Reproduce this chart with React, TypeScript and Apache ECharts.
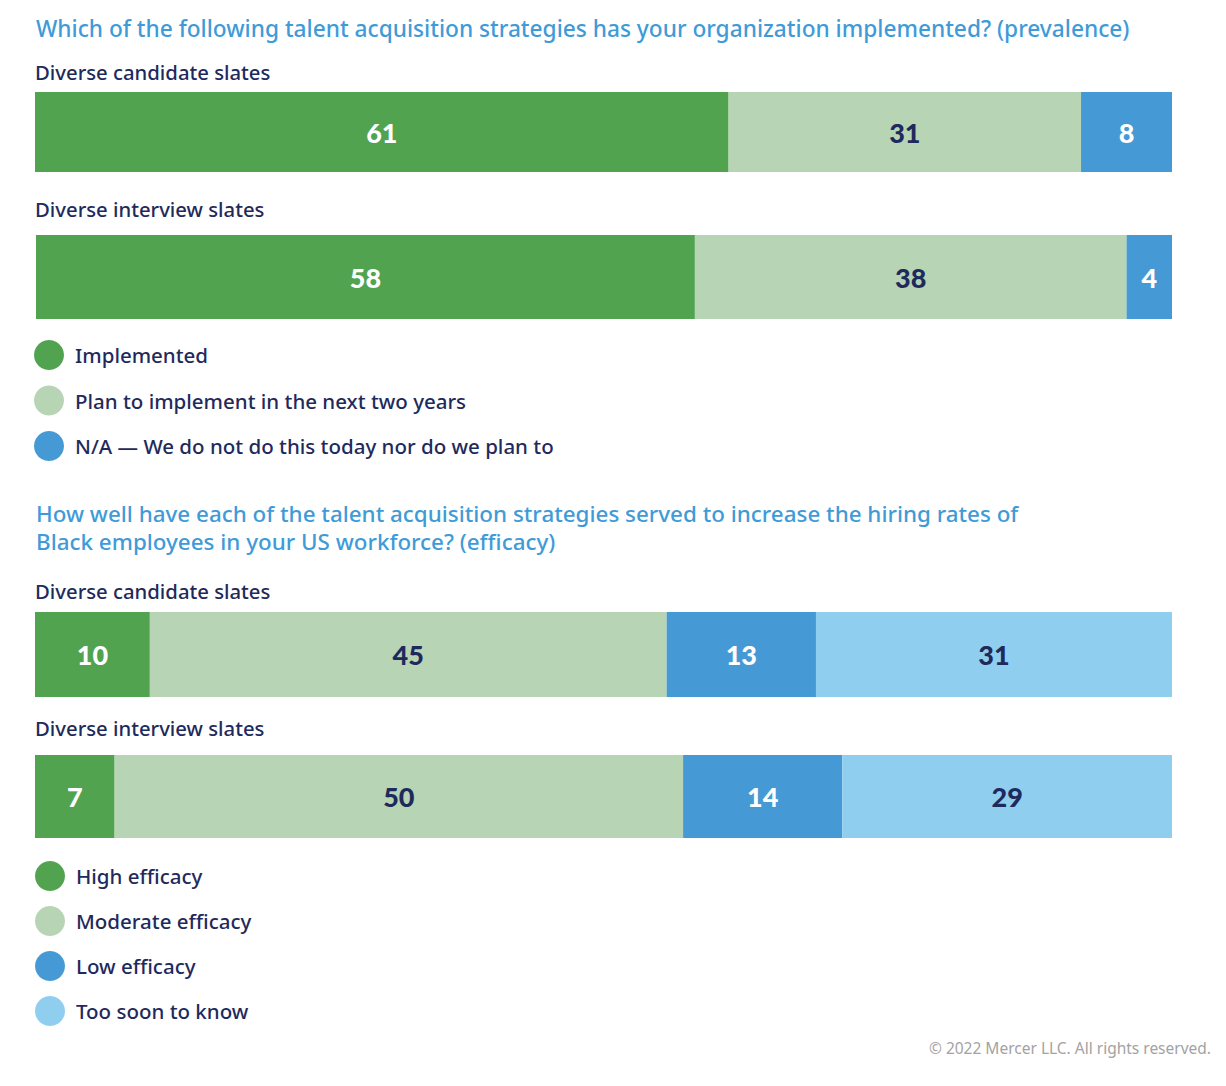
import React, { useEffect, useRef } from "react";
import * as echarts from "echarts";

const prevalenceCategories = [
  "Implemented",
  "Plan to implement in the next two years",
  "N/A — We do not do this today nor do we plan to",
];
const prevalenceCandidate = [61, 31, 8];
const prevalenceInterview = [58, 38, 4];

const efficacyCategories = [
  "High efficacy",
  "Moderate efficacy",
  "Low efficacy",
  "Too soon to know",
];
const efficacyCandidate = [10, 45, 13, 31];
const efficacyInterview = [7, 50, 14, 29];

const rowLabels = ["Diverse candidate slates", "Diverse interview slates"];

const title1 =
  "Which of the following talent acquisition strategies has your organization implemented? (prevalence)";
const title2Lines = [
  "How well have each of the talent acquisition strategies served to increase the hiring rates of",
  "Black employees in your US workforce? (efficacy)",
];
const copyright = "© 2022 Mercer LLC. All rights reserved.";

const prevalenceColors = ["#51a350", "#b7d4b4", "#4599d4"];
const prevalenceLabelColors = ["#ffffff", "#1f2a5c", "#ffffff"];
const efficacyColors = ["#51a350", "#b7d4b4", "#4599d4", "#90cef0"];
const efficacyLabelColors = ["#ffffff", "#1f2a5c", "#ffffff", "#1f2a5c"];

const NAVY = "#1f2a5c";
const TITLE_BLUE = "#3f9bd8";
const FONT = '"Noto Sans", "Open Sans", sans-serif';

export default function App() {
  const ref = useRef<HTMLDivElement>(null);

  useEffect(() => {
    if (!ref.current) return;
    const chart = echarts.init(ref.current, undefined, { renderer: "svg" });

    const grids = [
      { left: 35, right: 54, top: 92, height: 80 },
      { left: 36, right: 54, top: 235, height: 84 },
      { left: 35, right: 54, top: 612, height: 85 },
      { left: 35, right: 54, top: 755, height: 83 },
    ];
    const rows = [
      { values: prevalenceCandidate, names: prevalenceCategories, colors: prevalenceColors, labelColors: prevalenceLabelColors, label: rowLabels[0] },
      { values: prevalenceInterview, names: prevalenceCategories, colors: prevalenceColors, labelColors: prevalenceLabelColors, label: rowLabels[1] },
      { values: efficacyCandidate, names: efficacyCategories, colors: efficacyColors, labelColors: efficacyLabelColors, label: rowLabels[0] },
      { values: efficacyInterview, names: efficacyCategories, colors: efficacyColors, labelColors: efficacyLabelColors, label: rowLabels[1] },
    ];

    const xAxis = rows.map((r, i) => ({
      type: "value",
      gridIndex: i,
      min: 0,
      max: r.values.reduce((a, b) => a + b, 0),
      show: false,
    }));
    const yAxis = rows.map((r, i) => ({
      type: "category",
      gridIndex: i,
      data: [r.label],
      show: false,
    }));

    const series: any[] = [];
    rows.forEach((r, i) => {
      r.values.forEach((v, j) => {
        series.push({
          type: "bar",
          name: r.names[j],
          stack: "row" + i,
          xAxisIndex: i,
          yAxisIndex: i,
          barWidth: "100%",
          data: [v],
          itemStyle: { color: r.colors[j] },
          label: {
            show: true,
            position: "inside",
            formatter: "{c}",
            color: r.labelColors[j],
            fontSize: 27,
            fontWeight: 900,
            fontFamily: '"Lato", "Open Sans", sans-serif',
          },
          emphasis: { disabled: true },
        });
      });
    });

    const textEl = (text: string, x: number, y: number, size: number, color: string, weight: number | string = 500, align = "left") => ({
      type: "text",
      x,
      y,
      style: {
        text,
        fill: color,
        fontSize: size,
        fontWeight: weight,
        fontFamily: FONT,
        verticalAlign: "middle",
        align,
      },
    });

    const legendBase = {
      orient: "vertical",
      icon: "circle",
      itemWidth: 30,
      itemHeight: 30,
      padding: 0,
      selectedMode: false,
      textStyle: {
        color: NAVY,
        fontSize: 20.5,
        fontWeight: 500,
        fontFamily: FONT,
        padding: [0, 0, 0, 6],
      },
    };

    chart.setOption({
      animation: false,
      backgroundColor: "#ffffff",
      grid: grids,
      xAxis,
      yAxis,
      series,
      legend: [
        { ...legendBase, left: 34, top: 340, itemGap: 15.5, data: prevalenceCategories },
        { ...legendBase, left: 35, top: 861, itemGap: 15, data: efficacyCategories },
      ],
      graphic: [
        textEl(title1, 36, 28, 22.7, TITLE_BLUE, 500),
        textEl(rowLabels[0], 35, 72, 20.3, NAVY, 500),
        textEl(rowLabels[1], 35, 209, 20.3, NAVY, 500),
        textEl(title2Lines[0], 36, 513.5, 22.4, TITLE_BLUE, 500),
        textEl(title2Lines[1], 36, 541.5, 22.4, TITLE_BLUE, 500),
        textEl(rowLabels[0], 35, 591, 20.3, NAVY, 500),
        textEl(rowLabels[1], 35, 728, 20.3, NAVY, 500),
        textEl(copyright, 1211, 1048, 15.5, "#a3a3a3", 400, "right"),
      ],
    });

    return () => chart.dispose();
  }, []);

  return (
    <div
      ref={ref}
      style={{ position: "fixed", left: 0, top: 0, width: 1226, height: 1086, background: "#fff" }}
    />
  );
}
